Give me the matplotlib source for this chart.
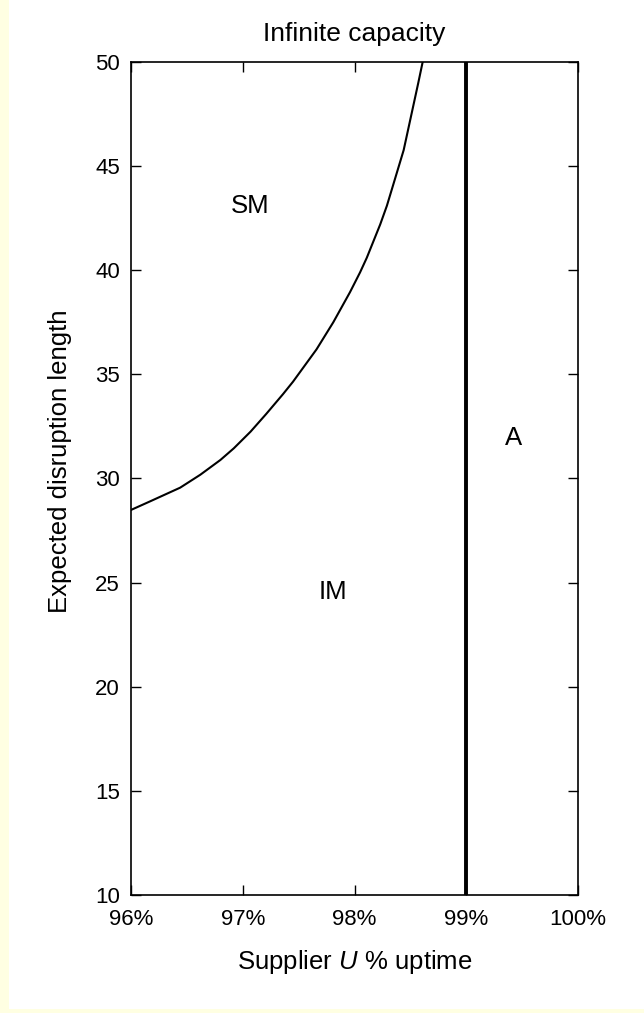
import matplotlib
matplotlib.use("Agg")
import matplotlib.pyplot as plt
from matplotlib.patches import Rectangle

plt.rcParams['font.family'] = ['Liberation Sans', 'DejaVu Sans']
plt.rcParams['mathtext.fontset'] = 'custom'
plt.rcParams['mathtext.rm'] = 'Liberation Sans'
plt.rcParams['mathtext.it'] = 'Liberation Sans:italic'

# Data
boundary_x = [96.00, 96.17, 96.44, 96.62, 96.80, 96.92, 97.07, 97.21, 97.36,
              97.45, 97.66, 97.81, 97.96, 98.05, 98.11, 98.23, 98.29, 98.38,
              98.44, 98.57, 98.61]
boundary_y = [28.49, 28.90, 29.56, 30.18, 30.89, 31.45, 32.25, 33.10, 34.05,
              34.65, 36.20, 37.50, 38.95, 39.90, 40.60, 42.20, 43.10, 44.70,
              45.77, 48.98, 50.0]
threshold_x = 99.0
regions = ["SM", "IM", "A"]
region_x = [97.07, 97.81, 99.42]
region_y = [43.1, 24.55, 31.95]
xticks = [96, 97, 98, 99, 100]
xticklabels = ["96%", "97%", "98%", "99%", "100%"]
yticks = [10, 15, 20, 25, 30, 35, 40, 45, 50]

fig = plt.figure(figsize=(6.44, 10.13), dpi=100)
fig.patch.set_facecolor('white')
yellow = '#FFFFE2'
fig.patches.append(Rectangle((0, 0), 9/644, 1, transform=fig.transFigure,
                             facecolor=yellow, edgecolor='none'))
fig.patches.append(Rectangle((0, 0), 1, 4/1013, transform=fig.transFigure,
                             facecolor=yellow, edgecolor='none'))

ax = fig.add_axes([131/644, 1 - 895/1013, (578 - 131)/644, (895 - 62)/1013])
ax.plot(boundary_x, boundary_y, color='black', lw=1.5)
ax.axvline(threshold_x, color='black', lw=2.8)
for lab, x, y in zip(regions, region_x, region_y):
    ax.text(x, y, lab, ha='center', va='center', fontsize=18.5)

ax.set_xlim(96, 100)
ax.set_ylim(10, 50)
ax.set_xticks(xticks)
ax.set_xticklabels(xticklabels)
ax.set_yticks(yticks)
ax.tick_params(direction='in', length=7.2, width=1, top=True, right=True,
               labelsize=16, pad=8)
ax.tick_params(axis='x', pad=10)
for s in ax.spines.values():
    s.set_linewidth(1.2)

ax.set_title("Infinite capacity", fontsize=19, pad=15)
ax.set_xlabel("Supplier $\\mathit{U}$ % uptime", fontsize=18.5, labelpad=13)
ax.set_ylabel("Expected disruption length", fontsize=18.5)
ax.yaxis.set_label_coords(-0.133, 0.521)

fig.savefig("out.png", dpi=100, facecolor=fig.get_facecolor())
